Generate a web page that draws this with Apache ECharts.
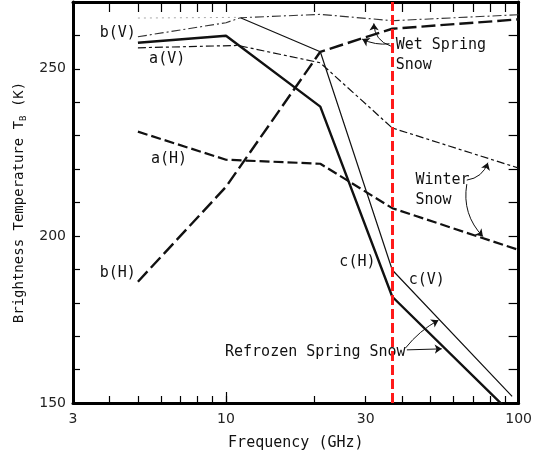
<!DOCTYPE html>
<html>
<head>
    <meta charset="utf-8">
    <title>Snow brightness temperature</title>
    <script src="https://cdn.jsdelivr.net/npm/echarts@6/dist/echarts.min.js"></script>
    <style>
      html, body { margin: 0; padding: 0; background: #fff; }
    </style>
</head>
<body>
    <div id="chart" style="width: 535px;height:456px;"></div>
    <script type="text/javascript">
    // frequencies in GHz, brightness temperatures in K
    var freqAV = [5, 11, 21, 37, 100];
    var tbAV   = [256.3, 257.0, 251.8, 232.3, 220.3];
    var freqAH = [5, 10, 21, 37, 100];
    var tbAH   = [231.2, 222.8, 221.6, 208.3, 195.8];
    var freqBV = [5, 10, 11.2, 21, 37, 100];
    var tbBV   = [259.6, 263.8, 265.3, 266.3, 264.4, 266.2];
    var freqBH = [5, 10, 21, 37, 100];
    var tbBH   = [186.3, 214.7, 255.1, 262.0, 264.8];
    var freqCV = [11.2, 21, 37, 95];
    var tbCV   = [265.3, 255.1, 189.8, 152.0];
    var freqCVfaint = [5, 11.2];
    var tbCVfaint   = [265.2, 265.4];
    var freqCH = [5, 10, 21, 37, 94];
    var tbCH   = [257.8, 259.9, 238.7, 181.8, 147.0];

    var markFreq = 37;   // red dashed line

    var tickFreqs  = [4, 5, 6, 7, 8, 9, 10, 20, 30, 40, 50, 60, 70, 80, 90];
    var labelFreqs = [3, 10, 30, 100];

    // text notes: [text, freq, tb]
    var notes = [
      ['b(V)', 3.70, 260.7],
      ['a(V)', 5.46, 252.9],
      ['a(H)', 5.54, 223.0],
      ['b(H)', 3.70, 188.9],
      ['c(H)', 24.4, 192.2],
      ['c(V)', 42.1, 186.8],
      ['Refrozen Spring Snow', 9.92, 165.3]
    ];
    var blockNotes = [
      ['Wet Spring\nSnow', 38.0, 260.1],
      ['Winter\nSnow', 44.4, 219.6]
    ];
    // leader arrows: [fromFreq, fromTb, toFreq, toTb, curveness]
    var arrows = [
      [36.6, 256.8, 32.0, 263.6, 0.35],
      [36.2, 257.5, 29.2, 258.9, 0.15],
      [66.5, 216.7, 78.5, 221.9, -0.3],
      [66.5, 215.5, 75.5, 199.8, -0.25],
      [41.1, 166.5, 53.2, 174.8, 0.1],
      [41.5, 165.9, 54.6, 166.2, 0]
    ];

    var MONO = '"DejaVu Sans Mono", monospace';
    var SANS = '"DejaVu Sans", sans-serif';
    var INK = '#111';

    function pairs(xs, ys) {
      return xs.map(function (x, i) { return [x, ys[i]]; });
    }
    function lineSeries(name, xs, ys, width, type, color) {
      return {
        name: name,
        type: 'line',
        xAxisIndex: 0,
        yAxisIndex: 0,
        data: pairs(xs, ys),
        symbol: 'none',
        silent: true,
        lineStyle: { color: color || INK, width: width, type: type }
      };
    }

    var chart = echarts.init(document.getElementById('chart'));
    var lg = Math.log10;

    var series = [
      lineSeries('a(V)', freqAV, tbAV, 1.2, [8, 3, 3, 3]),
      lineSeries('a(H)', freqAH, tbAH, 2.2, [10, 4]),
      lineSeries('b(V)', freqBV, tbBV, 1.1, [9, 3, 2, 3], '#333'),
      lineSeries('b(H)', freqBH, tbBH, 2.4, [14, 5]),
      lineSeries('c(V)', freqCV, tbCV, 1.2, 'solid'),
      lineSeries('c(V) faint', freqCVfaint, tbCVfaint, 1, [2, 4], '#aaa'),
      lineSeries('c(H)', freqCH, tbCH, 2.4, 'solid'),
      {
        type: 'lines',
        coordinateSystem: 'cartesian2d',
        xAxisIndex: 0,
        yAxisIndex: 0,
        silent: true,
        symbol: ['none', 'arrow'],
        symbolSize: 7,
        lineStyle: { color: INK, width: 1, opacity: 1 },
        data: arrows.map(function (a) {
          return { coords: [[a[0], a[1]], [a[2], a[3]]], lineStyle: { curveness: a[4] } };
        })
      },
      {
        type: 'line',
        xAxisIndex: 0,
        yAxisIndex: 0,
        data: [],
        markLine: {
          silent: true,
          symbol: 'none',
          label: { show: false },
          lineStyle: { color: '#ff1a1a', width: 3, type: [10, 4] },
          data: [{ xAxis: markFreq }]
        }
      }
    ];

    var option = {
      animation: false,
      backgroundColor: '#fff',
      grid: { left: 73, right: 11, top: 2, bottom: 53 },
      xAxis: [
        { type: 'log', logBase: 10, min: 3, max: 100, position: 'bottom', show: false },
        {
          type: 'value', position: 'bottom', min: lg(3), max: 2,
          axisLine: { show: true, onZero: false, lineStyle: { color: '#000', width: 3 } },
          axisTick: { show: true, inside: true, length: 7, customValues: tickFreqs.map(function (f) { return lg(f); }),
                      lineStyle: { color: '#000', width: 1.2 } },
          axisLabel: { customValues: labelFreqs.map(function (f) { return lg(f); }),
                       formatter: function (v) { return String(Math.round(Math.pow(10, v))); },
                       margin: 9, fontFamily: SANS, fontSize: 14, color: '#222' },
          splitLine: { show: false },
          name: 'Frequency (GHz)', nameLocation: 'middle', nameGap: 33,
          nameTextStyle: { fontFamily: MONO, fontSize: 15, color: INK }
        },
        {
          type: 'value', position: 'bottom', min: lg(3), max: 2,
          axisLine: { show: false },
          axisTick: { show: true, inside: true, length: 11, customValues: [1], lineStyle: { color: '#000', width: 1.2 } },
          axisLabel: { show: false },
          splitLine: { show: false }
        },
        {
          type: 'value', position: 'top', min: lg(3), max: 2,
          axisLine: { show: true, onZero: false, lineStyle: { color: '#000', width: 3 } },
          axisTick: { show: true, inside: true, length: 10, customValues: tickFreqs.map(function (f) { return lg(f); }),
                      lineStyle: { color: '#000', width: 1.2 } },
          axisLabel: { show: false },
          splitLine: { show: false }
        }
      ],
      yAxis: [
        {
          type: 'value', position: 'left', min: 150, max: 270, interval: 10,
          axisLine: { show: true, onZero: false, lineStyle: { color: '#000', width: 3 } },
          axisTick: { show: true, inside: true, length: 7, lineStyle: { color: '#000', width: 1.2 } },
          axisLabel: { formatter: function (v) { return (v % 50 === 0 && v < 270) ? String(v) : ''; },
                       margin: 7, fontFamily: SANS, fontSize: 14, color: '#222' },
          splitLine: { show: false },
          name: 'Brightness Temperature T{s|B} (K)', nameLocation: 'middle', nameGap: 34,
          nameTextStyle: { fontFamily: MONO, fontSize: 14, color: INK,
                           rich: { s: { fontFamily: MONO, fontSize: 9, color: INK, padding: [9, 0, 0, 0] } } }
        },
        {
          type: 'value', position: 'right', min: 150, max: 270, interval: 10,
          axisLine: { show: true, onZero: false, lineStyle: { color: '#000', width: 3 } },
          axisTick: { show: true, inside: true, length: 10, lineStyle: { color: '#000', width: 1.2 } },
          axisLabel: { show: false },
          splitLine: { show: false }
        }
      ],
      series: series
    };
    chart.setOption(option);

    // place the text notes at their data positions
    var graphics = [];
    notes.forEach(function (n) {
      var p = chart.convertToPixel({ xAxisIndex: 0, yAxisIndex: 0 }, [n[1], n[2]]);
      graphics.push({ type: 'text', x: p[0], y: p[1], silent: true,
        style: { text: n[0], fontFamily: MONO, fontSize: 15, fill: INK, align: 'left', verticalAlign: 'middle' } });
    });
    blockNotes.forEach(function (n) {
      var p = chart.convertToPixel({ xAxisIndex: 0, yAxisIndex: 0 }, [n[1], n[2]]);
      graphics.push({ type: 'text', x: p[0], y: p[1], silent: true,
        style: { text: n[0], fontFamily: MONO, fontSize: 15, lineHeight: 20, fill: INK, align: 'left', verticalAlign: 'top' } });
    });
    chart.setOption({ graphic: graphics });
    </script>
</body>
</html>
